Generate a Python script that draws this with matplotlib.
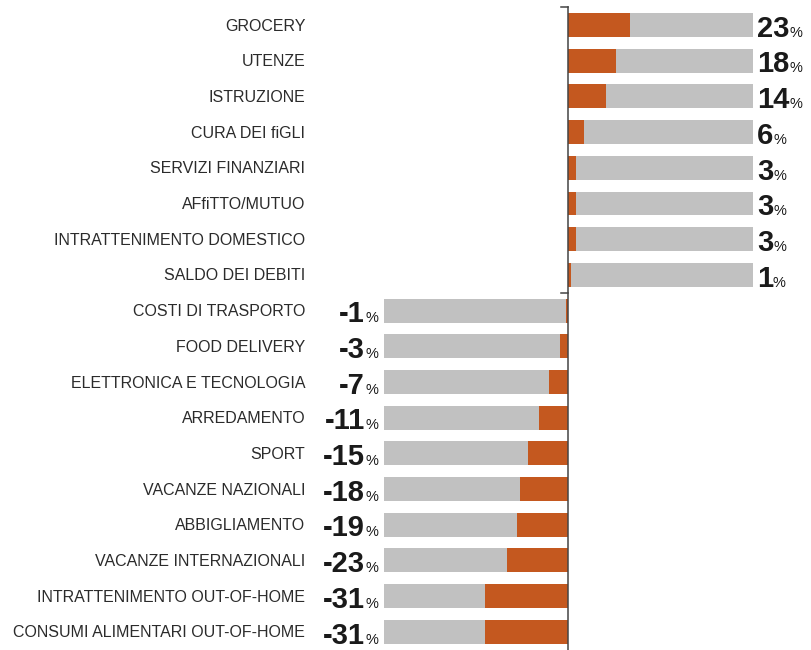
import matplotlib.pyplot as plt

categories = ["GROCERY", "UTENZE", "ISTRUZIONE", "CURA DEI fiGLI", "SERVIZI FINANZIARI",
              "AFfiTTO/MUTUO", "INTRATTENIMENTO DOMESTICO", "SALDO DEI DEBITI",
              "COSTI DI TRASPORTO", "FOOD DELIVERY", "ELETTRONICA E TECNOLOGIA",
              "ARREDAMENTO", "SPORT", "VACANZE NAZIONALI", "ABBIGLIAMENTO",
              "VACANZE INTERNAZIONALI", "INTRATTENIMENTO OUT-OF-HOME",
              "CONSUMI ALIMENTARI OUT-OF-HOME"]
values = [23, 18, 14, 6, 3, 3, 3, 1,
          -1, -3, -7, -11, -15, -18, -19, -23, -31, -31]
track = 68.8  # length of the grey background bar

ORANGE = '#c4581f'
GREY = '#c1c1c1'
FONT = 'Liberation Sans'


def main():
    fig = plt.figure(figsize=(8.11, 6.5), dpi=100)
    ax = fig.add_axes([0, 0, 1, 1])
    ax.set_xlim(-212, 90.6)
    ax.set_ylim(17.51, -0.70)
    ax.axis('off')

    n = len(categories)
    for i, (cat, v) in enumerate(zip(categories, values)):
        sign = 1 if v >= 0 else -1
        ax.barh(i, sign * track, height=0.67, color=GREY, zorder=1)
        ax.barh(i, v, height=0.67, color=ORANGE, zorder=2)
        ax.text(-98.1, i + 0.03, cat, ha='right', va='center', fontsize=11.5,
                color='#2b2b2b', family=FONT)
        if v >= 0:
            t = ax.text(70.4, i + 0.33, str(v), ha='left', va='baseline',
                        fontsize=21, fontweight='bold', color='#1a1a1a', family=FONT)
            ax.annotate('%', xy=(1, i + 0.33), xycoords=(t, 'data'), xytext=(0, 0),
                        textcoords='offset points', ha='left', va='baseline',
                        fontsize=10.5, color='#1a1a1a', family=FONT)
        else:
            p = ax.text(-71.0, i + 0.33, '%', ha='right', va='baseline',
                        fontsize=10.5, color='#1a1a1a', family=FONT)
            ax.annotate(str(v), xy=(0, i + 0.33), xycoords=(p, 'data'), xytext=(0, 0),
                        textcoords='offset points', ha='right', va='baseline',
                        fontsize=21, fontweight='bold', color='#1a1a1a', family=FONT)

    # axis line with small ticks
    ax.plot([0, 0], [-0.5, n], color='#444444', lw=1.1, zorder=3)
    ax.plot([-2.8, 0], [-0.5, -0.5], color='#444444', lw=1.1, zorder=3)
    ax.plot([-2.8, 0], [7.5, 7.5], color='#444444', lw=1.1, zorder=3)

    plt.savefig('out.png', dpi=100)
    plt.close()


if __name__ == '__main__':
    main()
